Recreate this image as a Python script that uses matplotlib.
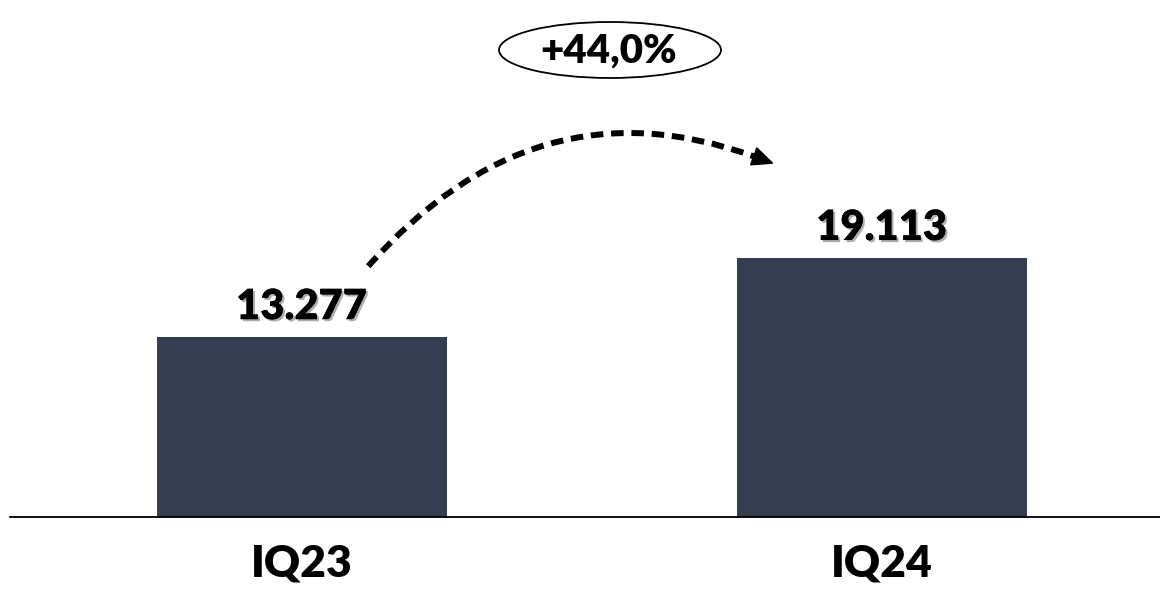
import numpy as np
import matplotlib
matplotlib.use('Agg')
import matplotlib.pyplot as plt
import matplotlib.patheffects as pe
from matplotlib.patches import Ellipse, Polygon, PathPatch
from matplotlib.path import Path
from matplotlib.transforms import IdentityTransform

categories = ['IQ23', 'IQ24']
values = [13277, 19113]
value_labels = ['13.277', '19.113']
growth_label = '+44,0%'

BAR_COLOR = '#353E51'

plt.rcParams['font.family'] = ['Lato', 'DejaVu Sans']

fig = plt.figure(figsize=(11.6, 6.05), dpi=100)
ax = fig.add_axes([10 / 1160, 88 / 605, 1150 / 1160, 517 / 605])

x = np.arange(len(categories))
ax.bar(x, values, width=0.5, color=BAR_COLOR, zorder=2)
ax.set_xlim(-0.5026, 1.480)
ax.set_ylim(0, 38135)

shadow = [pe.withSimplePatchShadow(offset=(1.5, -1.5), shadow_rgbFace='#777777', alpha=0.6), pe.Normal()]
for xi, v, lab in zip(x, values, value_labels):
    ax.text(xi, v + 800, lab, ha='center', va='bottom', fontsize=30,
            fontweight='heavy', color='black', path_effects=shadow)

# axis styling
for s in ['top', 'right', 'left']:
    ax.spines[s].set_visible(False)
ax.spines['bottom'].set_linewidth(1.3)
ax.spines['bottom'].set_color('black')
ax.set_yticks([])
ax.set_xticks(x)
ax.set_xticklabels(categories, fontsize=32, fontweight='heavy')
ax.tick_params(axis='x', length=0, pad=19)

# curved dashed arrow between the bars (quadratic curve, arc3-like), in pixels
start = ax.transData.transform((0.115, 18500))
tip = ax.transData.transform((0.812, 26100))
rad = -0.34
mid = (start + tip) / 2
d = tip - start
ctrl = np.array([mid[0] + rad * d[1], mid[1] - rad * d[0]])
direction = (tip - ctrl) / np.linalg.norm(tip - ctrl)
head_len, head_w = 20, 9
base = tip - direction * head_len
curve = PathPatch(Path([start, ctrl, base], [Path.MOVETO, Path.CURVE3, Path.CURVE3]),
                  transform=IdentityTransform(), facecolor='none', edgecolor='black',
                  linewidth=4.3, linestyle=(0, (2.1, 1.3)), capstyle='butt')
fig.add_artist(curve)
normal = np.array([-direction[1], direction[0]])
head = Polygon([tip, base + normal * head_w, base - normal * head_w],
               closed=True, transform=IdentityTransform(), facecolor='black', edgecolor='black')
fig.add_artist(head)

# growth bubble
fig.add_artist(Ellipse((610 / 1160, 1 - 50 / 605), 222 / 1160, 56 / 605,
                       transform=fig.transFigure, facecolor='white',
                       edgecolor='black', linewidth=1.3))
fig.text(609 / 1160, 1 - 51 / 605, growth_label, ha='center', va='center',
         fontsize=29, fontweight='heavy')

fig.savefig('out.png', dpi=100, facecolor='white')
